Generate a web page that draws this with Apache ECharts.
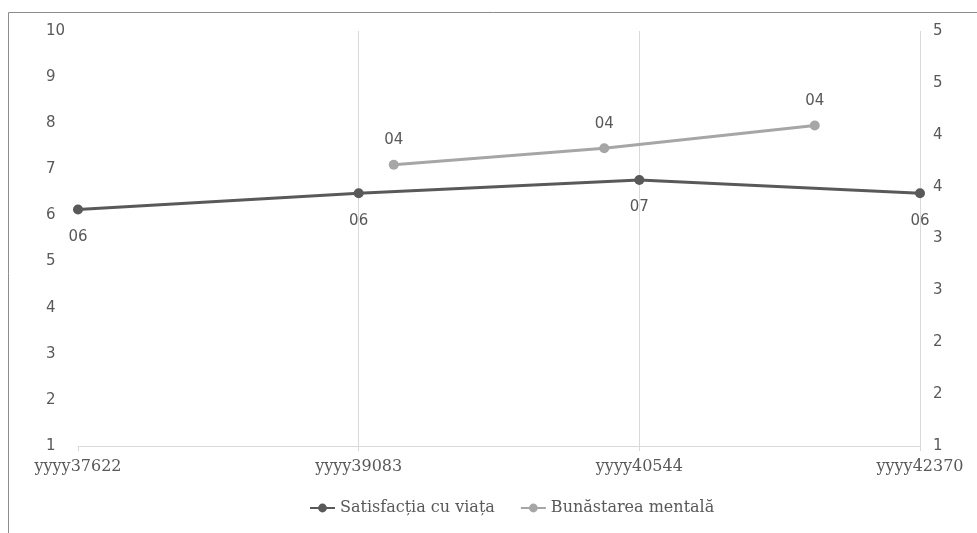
<!DOCTYPE html>
<html>
<head>
<meta charset="utf-8">
<script src="https://cdn.jsdelivr.net/npm/echarts@6/dist/echarts.min.js"></script>
<style>html,body{margin:0;padding:0;background:#fff}#c{width:977px;height:533px}</style>
</head>
<body>
<div id="c"></div>
<script>
const categories = ['yyyy37622', 'yyyy39083', 'yyyy40544', 'yyyy42370'];
const seriesNames = ['Satisfacția cu viața', 'Bunăstarea mentală'];
const satisfactie = [6.13, 6.48, 6.77, 6.48];
const bunastare = [null, 3.71, 3.87, 4.09];
const leftTicks = { min: 1, max: 10, interval: 1 };
const rightTicks = { min: 1, max: 5, interval: 0.5 };

const sans = 'DejaVu Sans';
const serif = 'DejaVu Serif';
const txt = '#595959';
const pad = v => { const r = Math.round(v); return (r < 10 ? '0' : '') + r; };

const chart = echarts.init(document.getElementById('c'));
chart.setOption({
  animation: false,
  graphic: [{
    type: 'rect', shape: { x: 8.5, y: 12.5, width: 1200, height: 800 },
    style: { fill: 'none', stroke: '#8c8c8c', lineWidth: 1 }, silent: true
  }],
  grid: { left: 78, right: 57, top: 31, bottom: 87, containLabel: false },
  legend: {
    bottom: 12, left: 304, itemWidth: 25, itemHeight: 11, itemGap: 25,
    textStyle: { fontFamily: serif, fontSize: 16, color: txt },
    data: seriesNames
  },
  xAxis: [{
    type: 'category', data: categories, boundaryGap: false,
    axisLine: { lineStyle: { color: '#d9d9d9', width: 1 } },
    axisTick: { show: true, length: 5, lineStyle: { color: '#d9d9d9' } },
    axisLabel: { fontFamily: serif, fontSize: 16, color: txt, margin: 13 },
    splitLine: { show: true, showMinLine: false, lineStyle: { color: '#d9d9d9', width: 1 } }
  }, {
    type: 'category', data: categories, boundaryGap: true, show: false, position: 'bottom'
  }],
  yAxis: [{
    type: 'value', min: leftTicks.min, max: leftTicks.max, interval: leftTicks.interval,
    axisLine: { show: false }, axisTick: { show: false }, splitLine: { show: false },
    axisLabel: { fontFamily: sans, fontSize: 15, color: txt, align: 'left', margin: 32 }
  }, {
    type: 'value', min: rightTicks.min, max: rightTicks.max, interval: rightTicks.interval,
    position: 'right',
    axisLine: { show: false }, axisTick: { show: false }, splitLine: { show: false },
    axisLabel: { fontFamily: sans, fontSize: 15, color: txt, margin: 13, formatter: v => String(Math.round(v)) }
  }],
  series: [{
    name: seriesNames[0], type: 'line', xAxisIndex: 0, yAxisIndex: 0,
    data: satisfactie, symbol: 'circle', symbolSize: 10,
    lineStyle: { color: '#595959', width: 3 }, itemStyle: { color: '#595959' },
    label: { show: true, position: 'bottom', distance: 15, fontFamily: sans, fontSize: 15, color: txt, formatter: p => pad(p.value) }
  }, {
    name: seriesNames[1], type: 'line', xAxisIndex: 1, yAxisIndex: 1,
    data: bunastare, symbol: 'circle', symbolSize: 10,
    lineStyle: { color: '#a6a6a6', width: 3 }, itemStyle: { color: '#a6a6a6' },
    label: { show: true, position: 'top', distance: 12, fontFamily: sans, fontSize: 15, color: txt, formatter: p => pad(p.value) }
  }]
});
</script>
</body>
</html>
